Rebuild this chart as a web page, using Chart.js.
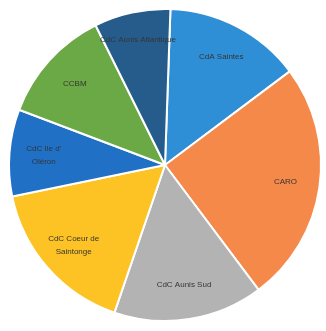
<!DOCTYPE html>
<html>
<head>
<meta charset="utf-8">
<script src="https://cdn.jsdelivr.net/npm/chart.js@4/dist/chart.umd.min.js"></script>
<style>
  html, body { margin: 0; padding: 0; background: #fff; }
  #pie { display: block; }
</style>
</head>
<body>
<canvas id="pie" width="326" height="331"></canvas>
<script>
// slice names, clockwise from the top
const labels = ['CdA Saintes', 'CARO', 'CdC Aunis Sud', 'CdC Coeur de Saintonge', "CdC Ile d' Oléron", 'CCBM', 'CdC Aunis Atlantique'];
// shares in %
const shares = [14.2, 25.0, 15.5, 16.5, 9.0, 11.9, 7.9];
// how each label is wrapped inside its slice
const labelLines = [['CdA Saintes'], ['CARO'], ['CdC Aunis Sud'], ['CdC Coeur de', 'Saintonge'], ["CdC Ile d'", 'Oléron'], ['CCBM'], ['CdC Aunis Atlantique']];
const colors = ['#2f8fd6', '#f5894a', '#b3b3b3', '#fdc224', '#2070c6', '#6aa945', '#265c8c'];

// draws the names inside the slices
const sliceLabels = {
    id: 'sliceLabels',
    afterDatasetsDraw(chart) {
        const ctx = chart.ctx;
        const meta = chart.getDatasetMeta(0);
        ctx.save();
        ctx.font = '8px "Liberation Sans", sans-serif';
        ctx.fillStyle = '#353535';
        ctx.textAlign = 'center';
        ctx.textBaseline = 'middle';
        meta.data.forEach((arc, i) => {
            const p = arc.getProps(['x', 'y', 'startAngle', 'endAngle', 'outerRadius'], true);
            const mid = (p.startAngle + p.endAngle) / 2;
            const r = p.outerRadius * (i === 6 ? 0.82 : 0.78);
            const cx = p.x + Math.cos(mid) * r;
            const cy = p.y + Math.sin(mid) * r;
            const lines = labelLines[i];
            lines.forEach((line, j) => {
                ctx.fillText(line, cx, cy + (j - (lines.length - 1) / 2) * 13);
            });
        });
        ctx.restore();
    }
};

new Chart(document.getElementById('pie').getContext('2d'), {
    type: 'pie',
    data: {
        labels: labels,
        datasets: [{
            data: shares,
            backgroundColor: colors,
            borderColor: '#ffffff',
            borderWidth: 2
        }]
    },
    options: {
        responsive: false,
        animation: false,
        rotation: 2,
        layout: { padding: { left: 8, right: 4, top: 8, bottom: 9 } },
        plugins: {
            legend: { display: false },
            tooltip: { enabled: false }
        }
    },
    plugins: [sliceLabels]
});
</script>
</body>
</html>
